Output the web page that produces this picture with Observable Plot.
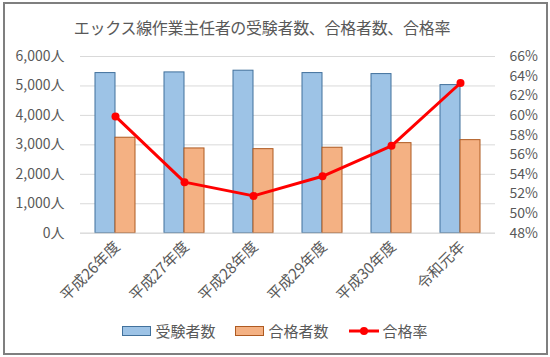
<!DOCTYPE html>
<html><head><meta charset="utf-8">
<script src="https://cdn.jsdelivr.net/npm/d3@7"></script>
<script src="https://cdn.jsdelivr.net/npm/@observablehq/plot@0.6"></script>
<style>
html,body{margin:0;padding:0;background:#fff;}
body{width:550px;height:357px;position:relative;overflow:hidden;font-family:"Noto Sans CJK JP","Noto Sans",sans-serif;}
#frame{position:absolute;left:3px;top:2px;width:541px;height:349px;border:2px solid #7f7f7f;box-sizing:content-box;}
#title{position:absolute;left:-13px;top:15px;width:550px;text-align:center;font-size:16px;color:#595959;letter-spacing:-0.3px;}
#chart{position:absolute;left:0;top:40px;}
#legend{position:absolute;left:0;top:320px;width:550px;display:flex;justify-content:center;align-items:center;font-size:15px;color:#595959;}
.item{display:flex;align-items:center;margin:0 10px;}
.sw{width:27px;height:8px;margin-right:4px;}
</style></head>
<body>
<div id="frame"></div>
<div id="title">エックス線作業主任者の受験者数、合格者数、合格率</div>
<div id="chart"></div>
<div id="legend"></div>
<script>
const categories = ["平成26年度","平成27年度","平成28年度","平成29年度","平成30年度","令和元年"];
const examinees = [5437, 5460, 5518, 5437, 5403, 5029];
const passers = [3242, 2878, 2854, 2902, 3058, 3160];
const passRate = [59.9, 53.2, 51.8, 53.8, 56.9, 63.3];
const leftTicks = [0,1000,2000,3000,4000,5000,6000];
const rightTicks = [48,50,52,54,56,58,60,62,64,66];
const seriesNames = ["受験者数","合格者数","合格率"];

const rateMin = 48, rateMax = 66, countMax = 6000;
const rateToY = r => (r - rateMin) / (rateMax - rateMin) * countMax;
const yToRate = v => v / countMax * (rateMax - rateMin) + rateMin;

const rows = categories.map((c,i)=>({cat:c, ex:examinees[i], ps:passers[i], rate:passRate[i]}));
const blue = "#9DC3E6", blueS = "#41719C", orange = "#F4B183", orangeS = "#AE5A21", red = "#FF0000";
const tc = "#595959";

const plot = Plot.plot({
  width: 550, height: 270,
  marginTop: 16, marginBottom: 77.3, marginLeft: 80, marginRight: 55,
  style: {fontFamily: '"Noto Sans CJK JP","Noto Sans",sans-serif', fontSize: "14px", color: tc, background: "transparent"},
  x: {domain: categories, type: "band", paddingInner: 0.422, paddingOuter: 0.211},
  y: {domain: [0, countMax]},
  marks: [
    Plot.gridY(leftTicks, {stroke: "#D9D9D9", strokeOpacity: 1, strokeWidth: 1}),
    Plot.barY(rows, {x: "cat", y: "ex", fill: blue, stroke: blueS, strokeWidth: 1, insetRight: 20}),
    Plot.barY(rows, {x: "cat", y: "ps", fill: orange, stroke: orangeS, strokeWidth: 1, insetLeft: 20}),
    Plot.ruleY([0], {stroke: "#D9D9D9"}),
    Plot.lineY(rows, {x: "cat", y: d => rateToY(d.rate), stroke: red, strokeWidth: 3}),
    Plot.dot(rows, {x: "cat", y: d => rateToY(d.rate), fill: red, r: 4}),
    Plot.axisY(leftTicks, {anchor: "left", tickSize: 0, tickPadding: 16, tickFormat: d => d3.format(",")(d) + "人", fill: tc, fontSize: 14, label: null}),
    Plot.axisY(rightTicks.map(rateToY), {anchor: "right", tickSize: 0, tickPadding: 14, tickFormat: d => Math.round(yToRate(d)) + "%", fill: tc, fontSize: 14, label: null}),
    Plot.axisX({tickSize: 0, tickPadding: 11, tickRotate: -45, fill: tc, fontSize: 15, label: null, textAnchor: "end", dx: 2})
  ]
});
document.getElementById("chart").appendChild(plot);

const legend = document.getElementById("legend");
legend.innerHTML =
  `<div class="item"><div class="sw" style="background:${blue};border:1px solid ${blueS}"></div>${seriesNames[0]}</div>` +
  `<div class="item"><div class="sw" style="background:${orange};border:1px solid ${orangeS}"></div>${seriesNames[1]}</div>` +
  `<div class="item"><svg width="30" height="10" style="margin-right:4px"><line x1="0" y1="5" x2="30" y2="5" stroke="${red}" stroke-width="3"/><circle cx="15" cy="5" r="4" fill="${red}"/></svg>${seriesNames[2]}</div>`;
</script>
</body></html>
